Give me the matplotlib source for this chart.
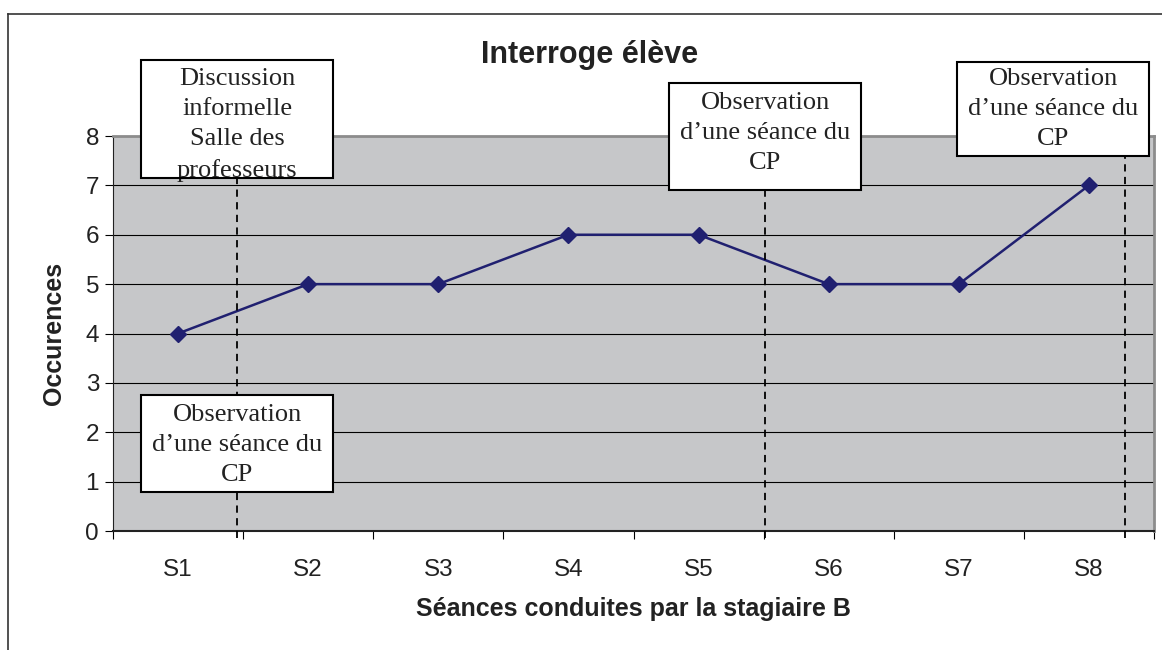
import matplotlib
matplotlib.use("Agg")
import matplotlib.pyplot as plt
from matplotlib.patches import Rectangle
from matplotlib.lines import Line2D

seances = ["S1", "S2", "S3", "S4", "S5", "S6", "S7", "S8"]
occurences = [4, 5, 5, 6, 6, 5, 5, 7]

obs_cp = "Observation\nd\u2019une séance du\nCP"
notes = ["Discussion\ninformelle\nSalle des\nprofesseurs", obs_cp, obs_cp, obs_cp]
# x position of the dashed marker lines (in category units)
marques = [0.45, 4.51, 7.28]

plt.rcParams['font.family'] = ['Liberation Sans', 'DejaVu Sans']

W, H = 1162, 650
fig = plt.figure(figsize=(W / 100, H / 100), dpi=100)
ax = fig.add_axes([113 / W, 1 - 531 / H, 1041 / W, 395 / H])
ax.set_facecolor("#c6c7c9")

x = list(range(len(seances)))
ax.plot(x, occurences, color="#202070", lw=1.8, marker="D", ms=8, zorder=3)

ax.set_xlim(-0.5, len(seances) - 0.5)
ax.set_ylim(0, 8)
ax.set_yticks(range(0, 9))
ax.yaxis.grid(True, color="black", lw=0.8)
ax.set_axisbelow(True)
ax.set_xticks([i - 0.5 for i in range(len(seances) + 1)])
ax.set_xticklabels([])
ax.set_xticks(x, minor=True)
ax.set_xticklabels(seances, minor=True)
ax.tick_params(axis="x", which="major", length=6, direction="out", color="black")
ax.tick_params(axis="x", which="minor", length=0, pad=20, labelsize=17.5, labelcolor="#222222")
ax.tick_params(axis="y", length=6, direction="out", labelsize=17.5, pad=4, labelcolor="#222222")
for s in ["top", "right"]:
    ax.spines[s].set_color("#8c8c8c")
    ax.spines[s].set_linewidth(2)
ax.spines["left"].set_color("#222222")
ax.spines["bottom"].set_color("#222222")
ax.spines["bottom"].set_linewidth(1.5)

ax.set_xlabel("Séances conduites par la stagiaire B", fontsize=18, fontweight="bold",
              labelpad=12, color="#222222")
ax.set_ylabel("Occurences", fontsize=18, fontweight="bold", labelpad=14, color="#222222")
fig.text(590 / W, 1 - 55 / H, "Interroge élève", ha="center", va="center",
         fontsize=22, fontweight="bold", color="#222222")

for m in marques:
    ax.plot([m, m], [-0.15, 8], color="black", lw=1.3, ls=(0, (4, 3)),
            clip_on=False, zorder=4)

# annotation boxes (pixel layout: left, top, right, bottom, text offset)
boites = [(141, 60, 333, 178, 8), (141, 395, 333, 492, 9),
          (669, 83, 861, 190, 9), (957, 62, 1149, 156, 6)]
for (l, t, r, b, dy), txt in zip(boites, notes):
    fx, fy = l / W, 1 - b / H
    fw, fh = (r - l) / W, (b - t) / H
    fig.add_artist(Rectangle((fx, fy), fw, fh, transform=fig.transFigure,
                             facecolor="white", edgecolor="none", zorder=5))
    fig.text((l + r) / 2 / W, 1 - (t + dy) / H, txt, ha="center", va="top",
             fontsize=19, family=["Liberation Serif", "DejaVu Serif"],
             color="#222222", linespacing=1.48, zorder=6)
    fig.add_artist(Rectangle((fx, fy), fw, fh, transform=fig.transFigure,
                             facecolor="none", edgecolor="black", lw=1.5, zorder=7))

# outer frame of the chart
fig.add_artist(Line2D([8 / W, 8 / W], [0, 1 - 14 / H], transform=fig.transFigure, color="#333333", lw=1.2))
fig.add_artist(Line2D([8 / W, 1], [1 - 14 / H, 1 - 14 / H], transform=fig.transFigure, color="#333333", lw=1.2))

fig.savefig("out.png", dpi=100)
